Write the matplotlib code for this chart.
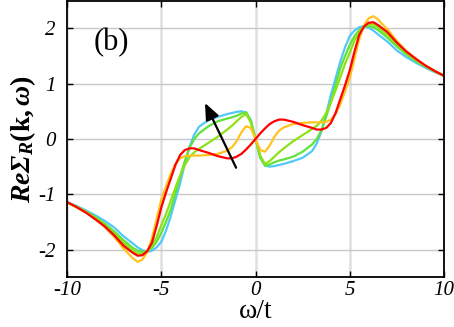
import matplotlib
matplotlib.use("Agg")
import matplotlib.pyplot as plt

plt.rcParams['font.family'] = ['Liberation Serif', 'DejaVu Serif']
plt.rcParams['mathtext.fontset'] = 'custom'
plt.rcParams['mathtext.rm'] = 'Liberation Serif'
plt.rcParams['mathtext.it'] = 'Liberation Serif:italic'
plt.rcParams['mathtext.bf'] = 'Liberation Serif:bold'
plt.rcParams['mathtext.bfit'] = 'Liberation Serif:bold:italic'

# ---- data ----
omega = [-10, -9.5, -9, -8.5, -8, -7.5, -7, -6.5, -6.25, -6, -5.75, -5.5, -5.25, -5,
         -4.75, -4.5, -4.25, -4, -3.75, -3.5, -3.25, -3, -2.5, -2, -1.5, -1.25, -1,
         -0.75, -0.5, -0.25, 0, 0.25, 0.5, 0.75, 1, 1.25, 1.5, 2, 2.5, 3, 3.25, 3.5,
         3.75, 4, 4.25, 4.5, 4.75, 5, 5.25, 5.5, 5.75, 6, 6.25, 6.5, 7, 7.5, 8, 8.5,
         9, 9.5, 10]

cyan = [-1.14, -1.21, -1.29, -1.38, -1.48, -1.60, -1.76, -1.89, -1.96, -2.01, -2.04, -2.02,
        -1.96, -1.86, -1.66, -1.40, -1.10, -0.80, -0.45, -0.14, 0.08, 0.22, 0.34, 0.40,
        0.45, 0.47, 0.49, 0.50, 0.48, 0.34, 0.0, -0.34, -0.48, -0.50, -0.49, -0.47,
        -0.45, -0.40, -0.34, -0.22, -0.08, 0.14, 0.45, 0.80, 1.10, 1.40, 1.66, 1.86,
        1.96, 2.02, 2.04, 2.01, 1.96, 1.89, 1.76, 1.60, 1.48, 1.38, 1.29, 1.21, 1.14]

green1 = [-1.15, -1.22, -1.31, -1.41, -1.53, -1.67, -1.83, -1.97, -2.02, -2.04, -2.03, -1.97,
          -1.86, -1.70, -1.50, -1.28, -0.98, -0.68, -0.40, -0.16, 0.0, 0.10, 0.23, 0.32,
          0.37, 0.39, 0.42, 0.46, 0.48, 0.33, 0.0, -0.33, -0.48, -0.46, -0.42, -0.39,
          -0.37, -0.32, -0.23, -0.10, 0.0, 0.16, 0.40, 0.68, 0.98, 1.28, 1.50, 1.70,
          1.86, 1.97, 2.03, 2.04, 2.02, 1.97, 1.83, 1.67, 1.53, 1.41, 1.31, 1.22, 1.15]

green2 = [-1.15, -1.23, -1.32, -1.43, -1.56, -1.71, -1.88, -2.02, -2.07, -2.07, -2.03, -1.93,
          -1.78, -1.56, -1.36, -1.12, -0.88, -0.66, -0.47, -0.33, -0.24, -0.18, -0.07, 0.04,
          0.17, 0.24, 0.32, 0.40, 0.45, 0.30, 0.0, -0.30, -0.45, -0.40, -0.32, -0.24,
          -0.17, -0.04, 0.07, 0.18, 0.24, 0.33, 0.47, 0.66, 0.88, 1.12, 1.36, 1.56,
          1.78, 1.93, 2.03, 2.07, 2.07, 2.02, 1.88, 1.71, 1.56, 1.43, 1.32, 1.23, 1.15]

gold = [-1.14, -1.23, -1.33, -1.45, -1.59, -1.77, -1.98, -2.16, -2.22, -2.18, -2.05, -1.80,
        -1.45, -1.10, -0.86, -0.63, -0.45, -0.35, -0.31, -0.30, -0.30, -0.30, -0.29, -0.27,
        -0.21, -0.15, -0.04, 0.12, 0.23, 0.20, 0.0, -0.20, -0.23, -0.12, 0.04, 0.15,
        0.21, 0.27, 0.29, 0.30, 0.30, 0.30, 0.31, 0.35, 0.45, 0.63, 0.86, 1.10,
        1.45, 1.80, 2.05, 2.18, 2.22, 2.16, 1.98, 1.77, 1.59, 1.45, 1.33, 1.23, 1.14]

red = [-1.14, -1.23, -1.33, -1.45, -1.58, -1.74, -1.93, -2.06, -2.11, -2.10, -2.03, -1.88,
       -1.58, -1.24, -0.97, -0.72, -0.47, -0.29, -0.20, -0.17, -0.17, -0.20, -0.25, -0.31,
       -0.35, -0.35, -0.32, -0.27, -0.19, -0.10, 0.0, 0.10, 0.19, 0.27, 0.32, 0.35,
       0.35, 0.31, 0.25, 0.20, 0.17, 0.17, 0.20, 0.29, 0.47, 0.72, 0.97, 1.24,
       1.58, 1.88, 2.03, 2.10, 2.11, 2.06, 1.93, 1.74, 1.58, 1.45, 1.33, 1.23, 1.14]

series = [cyan, green1, green2, gold, red]
colors = ['#52c8fa', '#5fe23a', '#8ee214', '#ffc41c', '#ff0000']

xticks = [-10, -5, 0, 5, 10]
xticklabels = ['-10', '-5', '0', '5', '10']
yticks = [-2, -1, 0, 1, 2]
yticklabels = ['-2', '-1', '0', '1', '2']
arrow_tail = (-1.03, -0.52)
arrow_head = (-2.68, 0.65)

# ---- figure ----
fig = plt.figure(figsize=(4.54, 3.27), dpi=100)
ax = fig.add_axes([0.1476, 0.152, 0.8304, 0.846])

for xv in xticks:
    ax.axvline(xv, color='#e0e0e0', lw=1.8, zorder=0)
for yv in yticks:
    ax.axhline(yv, color='#c8c8c8', lw=1.0, zorder=0)

for ys, c in zip(series, colors):
    ax.plot(omega, ys, color=c, lw=1.6, solid_capstyle='round', solid_joinstyle='round')

ax.annotate('', xy=arrow_head, xytext=arrow_tail,
            arrowprops=dict(arrowstyle='-|>,head_length=1.0,head_width=0.42',
                            color='black', lw=1.6, shrinkA=0, shrinkB=0))

ax.set_xlim(-10, 10)
ax.set_ylim(-2.5, 2.5)
ax.set_xticks(xticks)
ax.set_xticklabels(xticklabels, fontstyle='italic', fontsize=15)
ax.set_yticks(yticks)
ax.set_yticklabels(yticklabels, fontstyle='italic', fontsize=15)
ax.tick_params(direction='in', length=4, width=1, top=True, right=True)
ax.tick_params(axis='x', pad=3)
ax.tick_params(axis='y', pad=8)
for s in ax.spines.values():
    s.set_linewidth(1.3)

ax.set_xlabel(r'ω/t', fontsize=20, labelpad=-1)
ax.set_ylabel(r'$\mathbfit{Re\Sigma}_{\mathbfit{R}}\mathbf{(k,}\mathbfit{\omega}\mathbf{)}$',
              fontsize=20, labelpad=0)
ax.text(0.119, 0.85, '(b)', transform=ax.transAxes, fontsize=22,
        ha='center', va='center')

fig.savefig('out.png', dpi=100)
